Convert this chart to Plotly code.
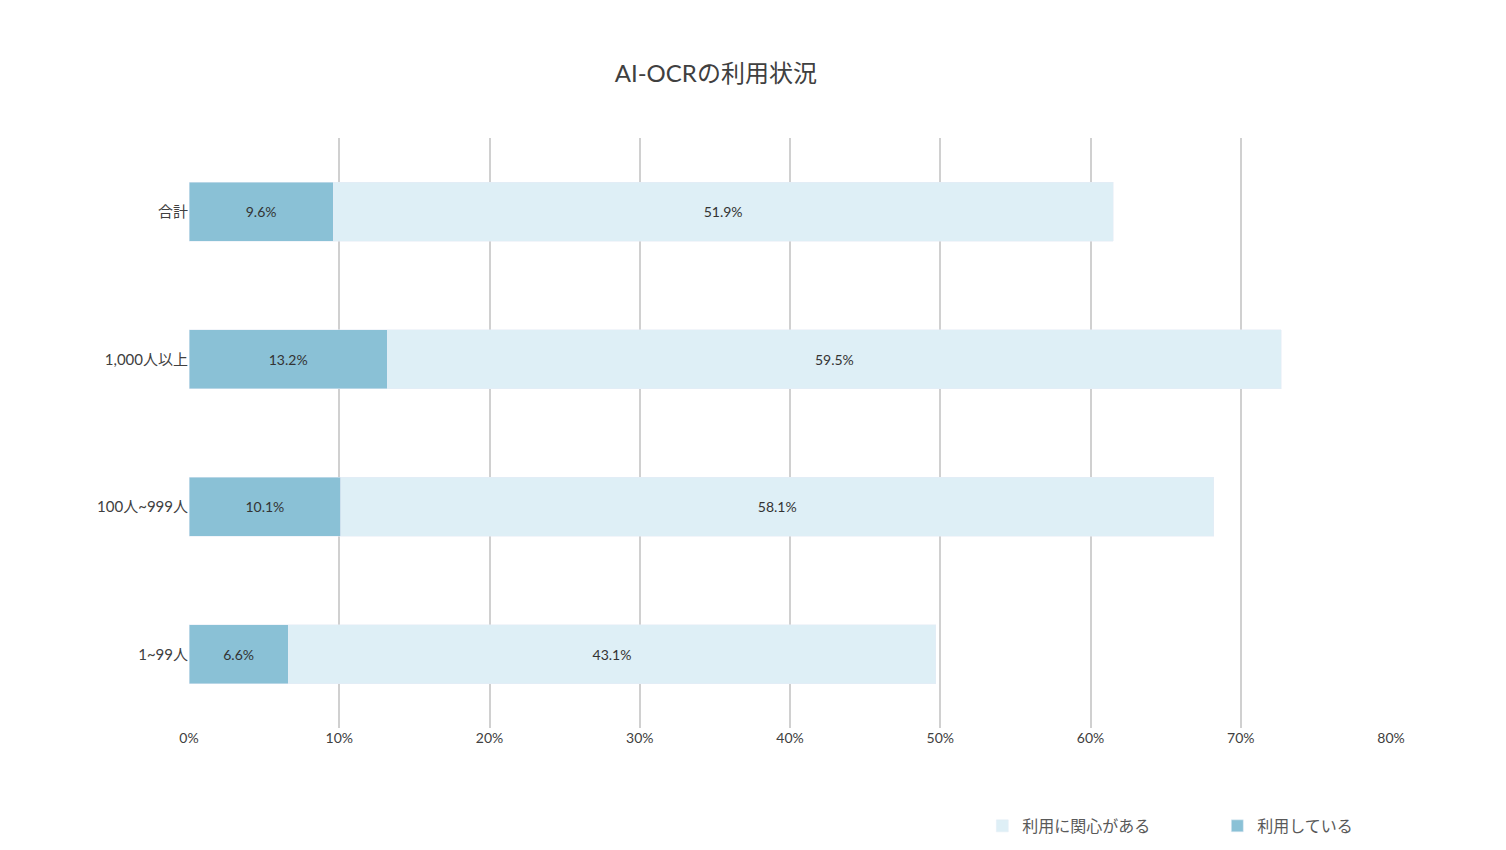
import plotly.graph_objects as go

# Data
categories = ["合計", "1,000人以上", "100人~999人", "1~99人"]
using = [9.6, 13.2, 10.1, 6.6]
interested = [51.9, 59.5, 58.1, 43.1]

font = "Lato, 'Noto Sans CJK JP', sans-serif"

fig = go.Figure()
fig.add_trace(go.Bar(
    y=categories, x=using, orientation="h", name="利用している",
    marker_color="#8ac1d6",
    text=[f"{v:.1f}%" for v in using], textposition="inside",
    insidetextanchor="middle", textfont=dict(color="#333333", size=14),
))
fig.add_trace(go.Bar(
    y=categories, x=interested, orientation="h", name="利用に関心がある",
    marker_color="#deeff6",
    text=[f"{v:.1f}%" for v in interested], textposition="inside",
    insidetextanchor="middle", textfont=dict(color="#333333", size=14),
))

fig.update_layout(
    barmode="stack",
    bargap=0.6,
    width=1506, height=850,
    paper_bgcolor="white", plot_bgcolor="white",
    font=dict(family=font, size=14, color="#595959"),
    title=dict(text="AI-OCRの利用状況", x=0.47, xanchor="center", y=0.933,
               font=dict(size=24, color="#404040")),
    margin=dict(l=181, r=123, t=130, b=130),
    xaxis=dict(range=[0, 80], dtick=10, ticksuffix="%", showgrid=True,
               gridcolor="#d0d0d0", gridwidth=2, zeroline=False,
               ticks="", tickfont=dict(size=14, color="#404040")),
    yaxis=dict(categoryorder="array", categoryarray=categories[::-1],
               ticks="", ticklen=0, tickfont=dict(size=15, color="#404040"),
               showline=False),
    legend=dict(orientation="h", x=0.66, xanchor="left", y=-0.166,
                yanchor="middle", font=dict(size=16, color="#595959"),
                itemwidth=30, entrywidthmode="pixels", entrywidth=190),
    showlegend=True,
)

fig.write_html("out.html")
